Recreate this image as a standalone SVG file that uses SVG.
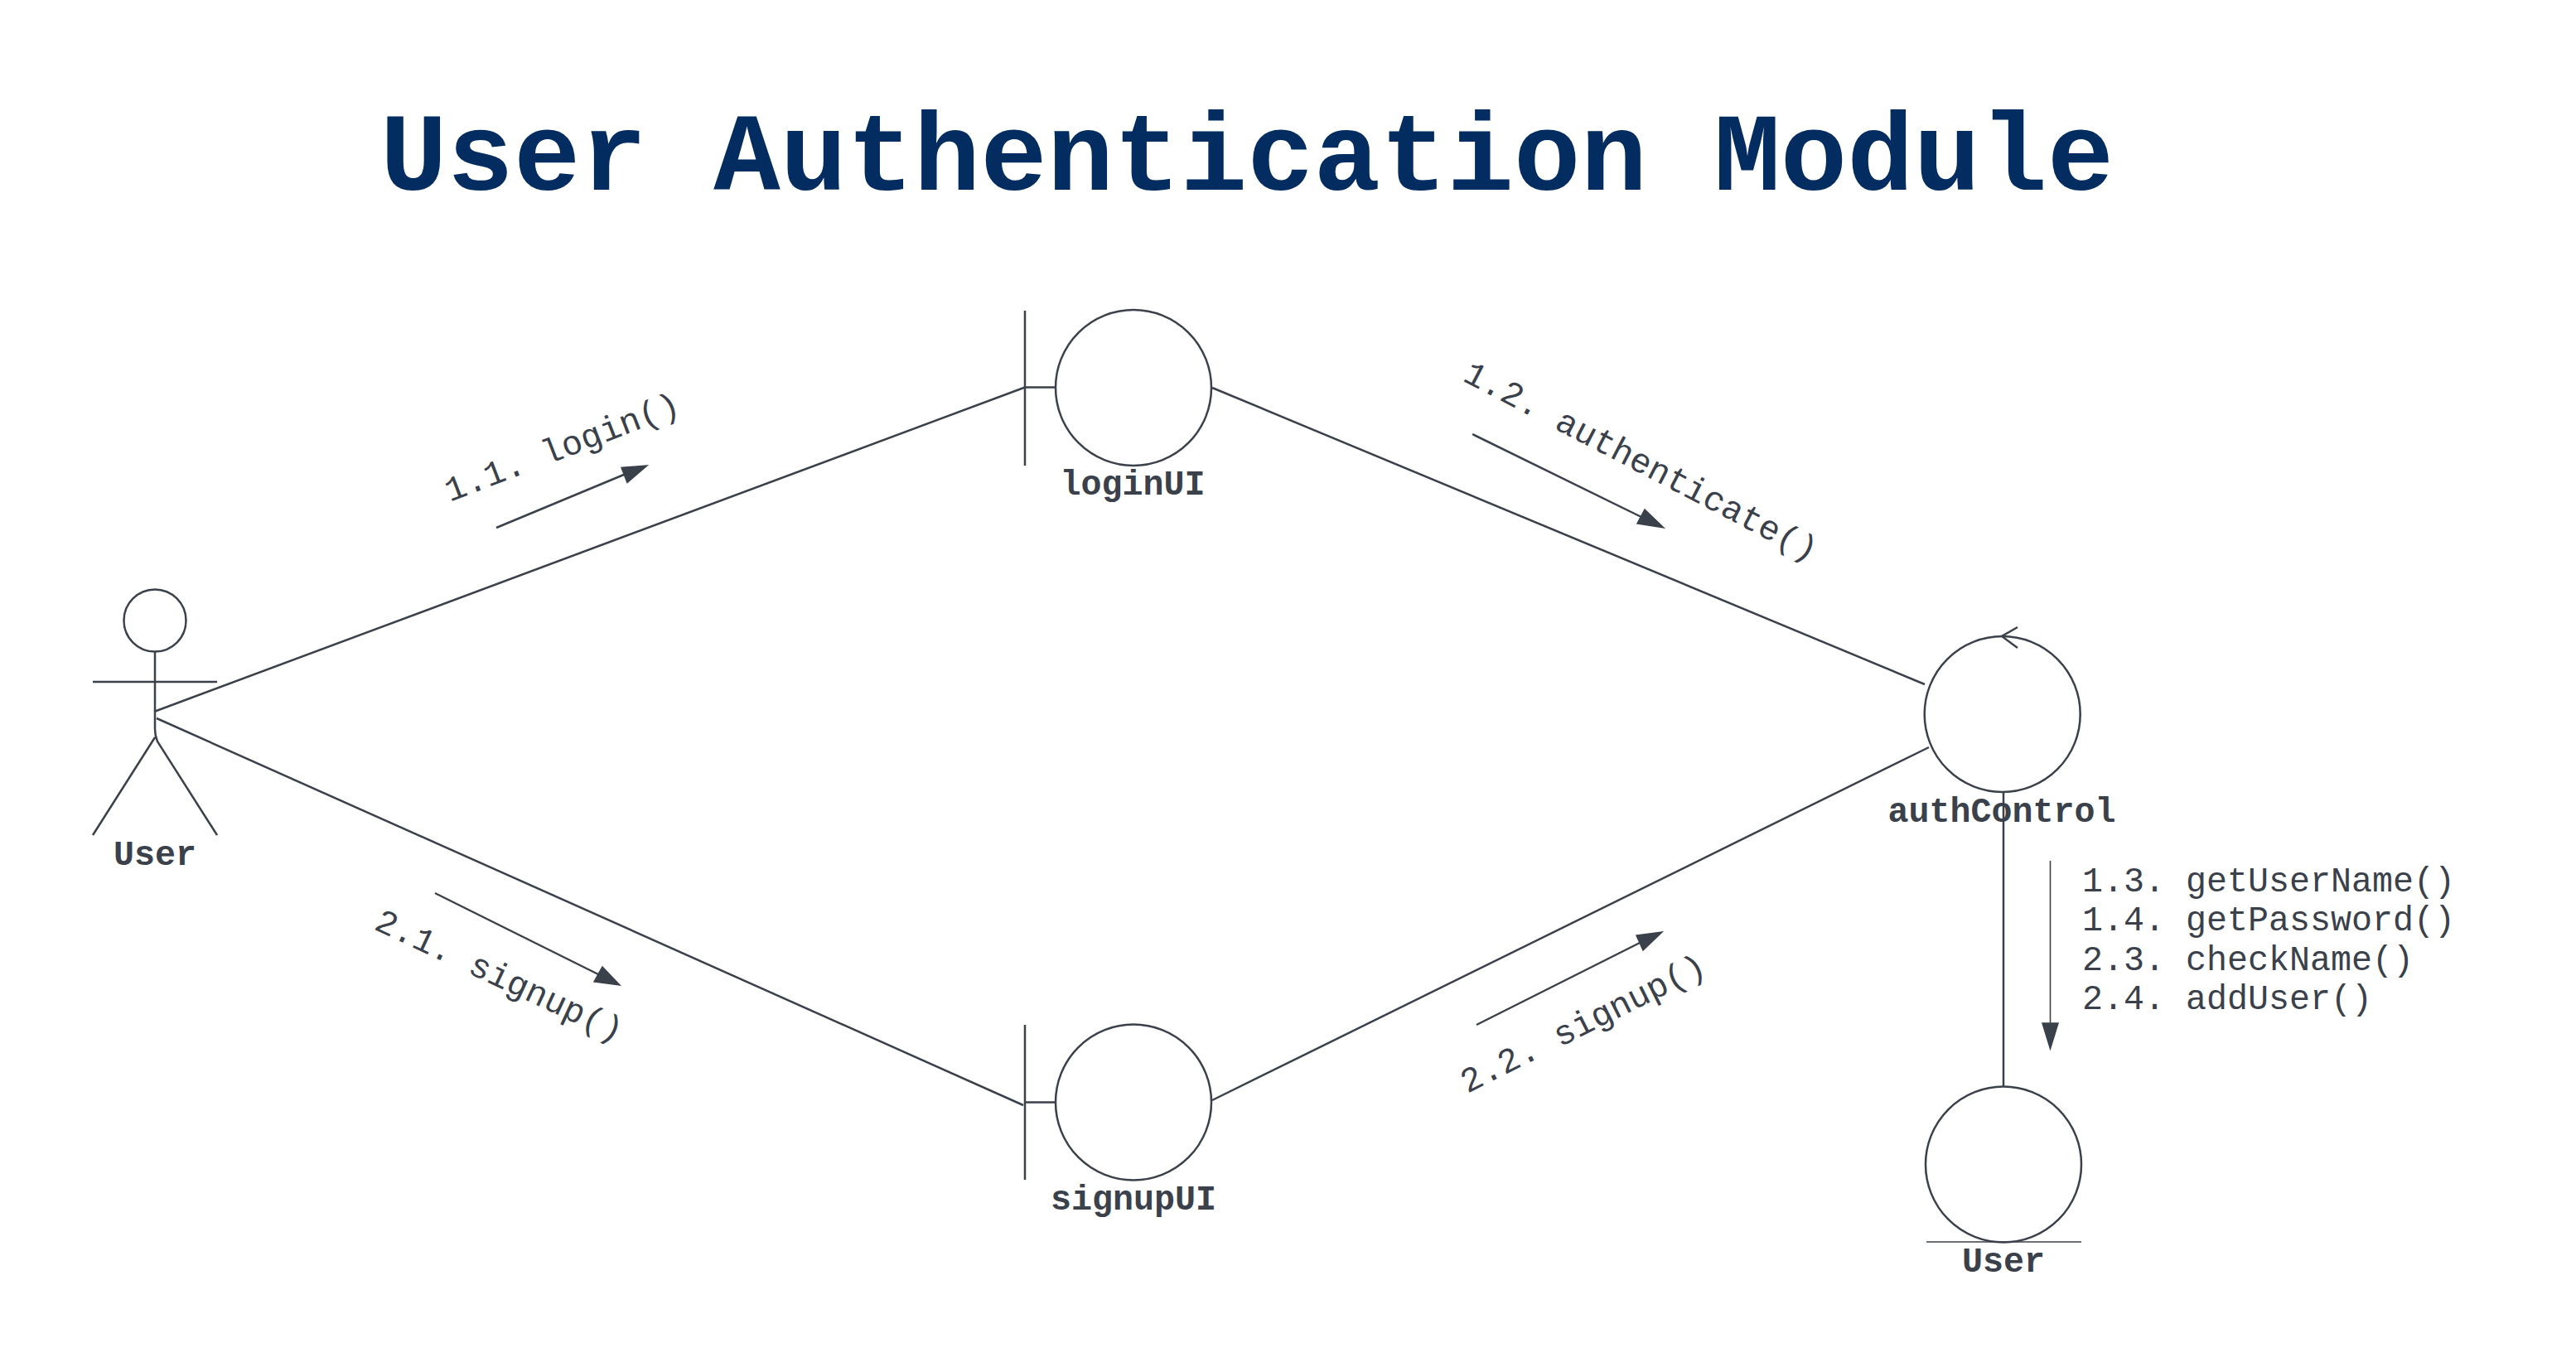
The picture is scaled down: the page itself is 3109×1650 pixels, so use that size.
<svg xmlns="http://www.w3.org/2000/svg" width="3109" height="1650" viewBox="0 0 3109 1650">
<style>
.s{fill:#fff;stroke:#3a414a;stroke-width:2.5}
.l{fill:none;stroke:#3a414a;stroke-width:2.5}
.h{fill:none;stroke:#3a414a;stroke-width:1.6}
.a{fill:#3a414a;stroke:#3a414a;stroke-width:1.5;stroke-linejoin:miter}
text{font-family:"Liberation Mono",monospace;fill:#3a414a;font-size:41.67px}
.n{font-weight:bold;text-anchor:middle}
.t{font-weight:bold;font-size:134.1px;fill:#032c60}
</style>
<rect width="3109" height="1650" fill="#fff"/>
<text class="t" x="459" y="229">User Authentication Module</text>
<g id="connectors">
<path class="l" d="M186 859L1237 467.500"/>
<path class="l" d="M189 867L1235 1334"/>
<path class="l" d="M1463 468L2323 826"/>
<path class="l" d="M1463 1328L2328 902"/>
<path class="l" d="M2418 956V1312"/>
<path class="l" d="M599 637L760 570"/><path class="a" d="M781 562L750 564.500L757 582.500Z"/>
<path class="l" d="M1777 524L1985 626"/><path class="a" d="M2008 637L1985 615L1976 632Z"/>
<path class="l" d="M525 1078L726 1178"/><path class="a" d="M748 1189L727 1167L717 1185Z"/>
<path class="l" d="M1782 1237L1983 1136"/><path class="a" d="M2006 1125L1975 1129L1983 1147Z"/>
<path class="h" d="M2474.500 1039V1240"/><path class="a" d="M2474.500 1266L2465 1235H2484Z"/>
</g>
<g id="label-1-1"><text transform="translate(543 606) rotate(-21)">1.1. login()</text></g>
<g id="label-1-2"><text transform="translate(1764 459) rotate(27.500)">1.2. authenticate()</text></g>
<g id="label-2-1"><text transform="translate(450 1121) rotate(25)">2.1. signup()</text></g>
<g id="label-2-2"><text transform="translate(1771 1320) rotate(-26.600)">2.2. signup()</text></g>
<g id="label-msgs">
<text x="2513" y="1076">1.3. getUserName()</text>
<text x="2513" y="1123">1.4. getPassword()</text>
<text x="2513" y="1171">2.3. checkName()</text>
<text x="2513" y="1218">2.4. addUser()</text>
</g>
<g id="actor-user">
<circle class="s" cx="187" cy="749" r="37.500"/>
<path class="l" d="M187 786V880Q187 888 190 895L262 1008M187 890L112 1008M112 823H262"/>
<text class="n" x="187" y="1044">User</text>
</g>
<g id="loginUI">
<circle class="s" cx="1368" cy="468" r="94"/>
<path class="l" d="M1237 375V562M1237 467.500H1274"/>
<text class="n" x="1367" y="597">loginUI</text>
</g>
<g id="signupUI">
<circle class="s" cx="1368" cy="1330.500" r="94"/>
<path class="l" d="M1237 1237V1424M1237 1330.500H1274"/>
<text class="n" x="1368" y="1460">signupUI</text>
</g>
<g id="authControl">
<circle class="s" cx="2416.700" cy="862" r="94"/>
<path class="l" d="M2435 757L2416 768L2435 782"/>
<text class="n" x="2416" y="992">authControl</text>
</g>
<g id="user-entity">
<circle class="s" cx="2418" cy="1405.500" r="94"/>
<path class="h" d="M2325 1499H2512"/>
<text class="n" x="2418" y="1535">User</text>
</g>
</svg>
